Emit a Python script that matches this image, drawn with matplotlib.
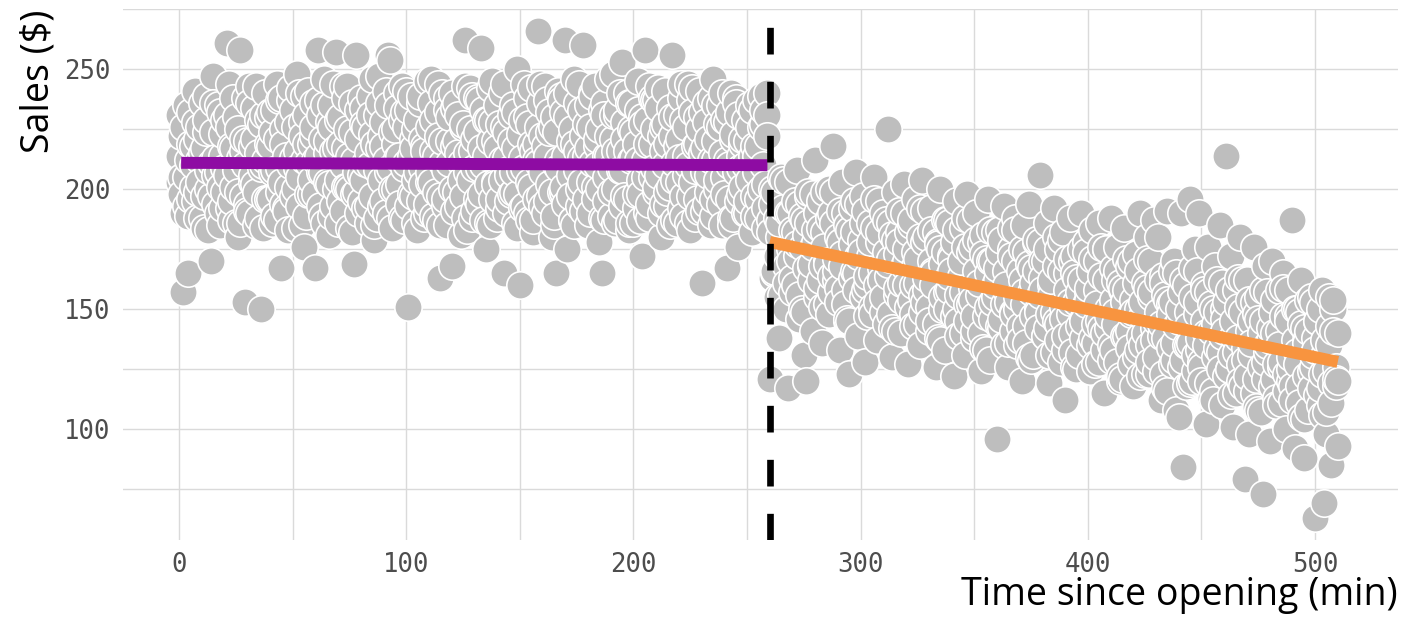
import numpy as np
import matplotlib.pyplot as plt

# sales per minute; three readings per minute
# minutes 0-259, before the change
sales_before_a = [
    231, 205, 157, 193, 165, 219, 201, 228, 188, 212,
    236, 197, 224, 183, 170, 247, 206, 190, 232, 214,
    199, 261, 226, 187, 238, 208, 180, 258, 216, 153,
    194, 243, 203, 221, 185, 229, 150, 210, 240, 196,
    218, 186, 233, 244, 209, 167, 225, 192, 201, 237,
    213, 184, 248, 205, 228, 176, 219, 241, 198, 222,
    167, 258, 207, 189, 235, 215, 181, 226, 244, 257,
    204, 230, 191, 217, 243, 200, 182, 169, 256, 221,
    195, 234, 211, 186, 239, 223, 179, 208, 247, 193,
    228, 212, 256, 254, 184, 219, 240, 202, 188, 232,
    241, 151, 214, 197, 225, 183, 236, 209, 218, 190,
    203, 246, 229, 187, 244, 163, 211, 193, 238, 220,
    168, 234, 199, 215, 181, 226, 262, 207, 242, 188,
    221, 196, 237, 259, 210, 175, 229, 185, 245, 203,
    217, 192, 240, 165, 224, 208, 198, 235, 186, 250,
    160, 213, 244, 190, 227, 201, 182, 219, 266, 236,
    207, 243, 195, 224, 180, 230, 165, 212, 239, 199,
    262, 175, 220, 187, 246, 208, 193, 233, 260, 214,
    185, 226, 240, 201, 218, 178, 165, 236, 195, 222,
    209, 248, 186, 231, 216, 253, 197, 240, 183, 225,
    213, 192, 245, 204, 172, 258, 229, 188, 219, 237,
    199, 242, 180, 226, 210, 193, 234, 256, 204, 186,
    221, 238, 197, 214, 244, 183, 242, 208, 230, 191,
    161, 217, 236, 199, 185, 246, 212, 227, 194, 240,
    205, 167, 232, 188, 221, 238, 176, 214, 201, 229,
    190, 235, 182, 218, 207, 196, 239, 227, 184, 240,
]
sales_before_b = [
    214, 198, 226, 205, 189, 232, 210, 195, 221, 203,
    188, 217, 229, 200, 211, 236, 194, 207, 185, 223,
    209, 231, 192, 218, 201, 186, 225, 213, 197, 238,
    220, 190, 206, 234, 199, 215, 227, 184, 212, 230,
    196, 224, 208, 187, 237, 203, 219, 191, 228, 210,
    233, 200, 216, 193, 222, 239, 189, 211, 204, 226,
    198, 214, 231, 207, 186, 220, 202, 235, 193, 217,
    229, 195, 210, 238, 201, 184, 224, 212, 199, 233,
    206, 227, 192, 215, 231, 197, 219, 188, 236, 204,
    218, 190, 235, 209, 200, 225, 213, 194, 229, 187,
    211, 233, 198, 221, 186, 207, 239, 202, 216, 194,
    226, 203, 189, 214, 232, 197, 220, 208, 185, 230,
    200, 218, 236, 193, 211, 227, 188, 215, 204, 239,
    191, 224, 209, 198, 233, 214, 186, 220, 228, 202,
    235, 196, 212, 226, 190, 206, 231, 199, 217, 184,
    208, 229, 193, 238, 203, 219, 187, 212, 226, 197,
    222, 190, 214, 232, 199, 185, 224, 209, 237, 201,
    194, 230, 206, 187, 219, 236, 200, 213, 191, 227,
    217, 203, 239, 196, 210, 225, 188, 231, 205, 214,
    189, 221, 200, 233, 208, 193, 228, 216, 186, 236,
    224, 198, 212, 187, 230, 205, 219, 194, 238, 209,
    201, 234, 190, 216, 227, 199, 185, 222, 211, 231,
    213, 192, 229, 206, 186, 237, 203, 218, 196, 225,
    232, 207, 194, 221, 212, 189, 235, 200, 226, 215,
    198, 228, 210, 185, 223, 236, 195, 209, 219, 190,
    220, 204, 233, 197, 214, 188, 226, 210, 202, 231,
]
sales_before_c = [
    203, 222, 190, 235, 212, 196, 218, 241, 199, 226,
    215, 184, 239, 208, 197, 224, 213, 235, 201, 192,
    229, 206, 244, 195, 217, 230, 199, 186, 221, 210,
    191, 236, 218, 202, 243, 188, 209, 231, 196, 219,
    232, 207, 189, 221, 199, 238, 194, 214, 183, 242,
    197, 226, 209, 240, 185, 212, 231, 198, 219, 236,
    212, 237, 193, 221, 246, 203, 228, 189, 216, 200,
    186, 219, 243, 201, 225, 214, 236, 198, 207, 190,
    238, 204, 226, 193, 210, 246, 185, 231, 217, 222,
    195, 241, 207, 188, 224, 200, 234, 214, 243, 209,
    226, 193, 239, 217, 204, 229, 195, 221, 188, 245,
    207, 236, 216, 199, 222, 185, 240, 196, 233, 211,
    240, 191, 220, 231, 204, 197, 243, 183, 225, 216,
    209, 238, 194, 217, 187, 229, 202, 242, 196, 220,
    188, 227, 204, 244, 213, 195, 220, 207, 232, 198,
    223, 192, 209, 230, 187, 242, 216, 196, 211, 244,
    193, 218, 237, 202, 226, 189, 210, 241, 199, 232,
    214, 240, 197, 225, 185, 216, 244, 203, 222, 196,
    235, 190, 211, 243, 221, 200, 233, 187, 214, 246,
    199, 231, 216, 187, 240, 208, 221, 196, 236, 212,
    186, 219, 233, 198, 227, 212, 190, 243, 205, 225,
    237, 206, 222, 194, 241, 219, 201, 230, 187, 218,
    203, 244, 189, 226, 210, 197, 232, 188, 219, 241,
    215, 191, 228, 206, 238, 196, 220, 204, 235, 185,
    229, 212, 196, 240, 188, 207, 231, 198, 221, 210,
    195, 226, 214, 189, 237, 218, 200, 233, 192, 222,
]
# minutes 260-510, after the change
sales_after_a = [
    121, 200, 165, 188, 138, 205, 172, 150, 117, 190,
    183, 160, 208, 146, 176, 131, 120, 197, 168, 141,
    212, 155, 184, 136, 199, 170, 148, 190, 218, 162,
    180, 133, 203, 158, 145, 123, 192, 166, 207, 139,
    174, 197, 128, 160, 186, 151, 205, 137, 178, 163,
    190, 144, 225, 171, 130, 199, 156, 182, 140, 202,
    160, 127, 185, 148, 196, 171, 135, 204, 153, 180,
    141, 192, 166, 126, 178, 200, 150, 133, 187, 158,
    172, 122, 195, 145, 163, 184, 131, 198, 152, 176,
    138, 190, 160, 124, 181, 147, 196, 129, 170, 155,
    96, 183, 142, 193, 158, 126, 175, 149, 188, 135,
    166, 120, 185, 143, 194, 157, 131, 178, 150, 206,
    170, 139, 186, 119, 160, 192, 145, 175, 128, 182,
    112, 165, 188, 140, 172, 153, 131, 190, 146, 178,
    157, 124, 183, 136, 170, 186, 142, 115, 175, 150,
    188, 133, 162, 176, 120, 158, 184, 139, 168, 127,
    118, 173, 150, 190, 135, 161, 180, 123, 155, 187,
    145, 180, 112, 164, 138, 191, 152, 127, 170, 108,
    105, 190, 84, 160, 135, 196, 120, 175, 148, 190,
    128, 160, 102, 176, 141, 116, 168, 134, 185, 110,
    150, 214, 125, 172, 101, 158, 138, 180, 118, 79,
    162, 98, 145, 176, 121, 155, 107, 73, 168, 132,
    95, 170, 140, 113, 158, 126, 165, 100, 147, 120,
    187, 92, 150, 118, 162, 88, 137, 108, 155, 126,
    63, 145, 110, 158, 69, 98, 135, 85, 150, 118,
    93,
]
sales_after_b = [
    187, 163, 199, 172, 180, 156, 192, 168, 203, 175,
    157, 182, 172, 194, 150, 187, 167, 199, 162, 176,
    178, 190, 162, 151, 182, 169, 200, 157, 186, 166,
    159, 191, 173, 152, 185, 145, 177, 182, 165, 194,
    179, 155, 191, 164, 172, 148, 184, 160, 195, 167,
    149, 174, 164, 186, 142, 179, 159, 191, 154, 168,
    170, 182, 154, 143, 174, 161, 192, 149, 178, 158,
    151, 183, 165, 144, 177, 137, 169, 174, 157, 186,
    171, 147, 183, 156, 164, 140, 176, 152, 187, 159,
    141, 166, 156, 178, 134, 171, 151, 183, 146, 160,
    162, 174, 146, 135, 166, 153, 184, 141, 170, 150,
    143, 175, 157, 136, 169, 129, 161, 166, 149, 178,
    163, 139, 175, 148, 156, 132, 168, 144, 179, 151,
    133, 158, 148, 170, 126, 163, 143, 175, 138, 152,
    154, 166, 138, 127, 158, 145, 176, 133, 162, 142,
    135, 167, 149, 128, 161, 121, 153, 158, 141, 170,
    154, 130, 166, 139, 147, 123, 159, 135, 170, 142,
    124, 149, 139, 161, 117, 154, 134, 166, 129, 143,
    145, 157, 129, 118, 149, 136, 167, 124, 153, 133,
    126, 158, 140, 119, 152, 112, 144, 149, 132, 161,
    146, 122, 158, 131, 139, 115, 151, 127, 162, 134,
    116, 141, 131, 153, 109, 146, 126, 158, 121, 135,
    137, 149, 121, 110, 141, 128, 159, 116, 145, 125,
    118, 150, 132, 111, 144, 104, 136, 141, 124, 153,
    138, 114, 150, 123, 131, 107, 143, 119, 154, 126,
    120,
]
sales_after_c = [
    182, 194, 166, 155, 186, 173, 204, 161, 190, 170,
    163, 195, 177, 156, 189, 149, 181, 186, 169, 198,
    183, 159, 195, 168, 176, 152, 188, 164, 199, 171,
    153, 178, 168, 190, 146, 183, 163, 195, 158, 172,
    174, 186, 158, 147, 178, 165, 196, 153, 182, 162,
    155, 187, 169, 148, 181, 141, 173, 178, 161, 190,
    175, 151, 187, 160, 168, 144, 180, 156, 191, 163,
    145, 170, 160, 182, 138, 175, 155, 187, 150, 164,
    166, 178, 150, 139, 170, 157, 188, 145, 174, 154,
    147, 179, 161, 140, 173, 133, 165, 170, 153, 182,
    167, 143, 179, 152, 160, 136, 172, 148, 183, 155,
    137, 162, 152, 174, 130, 167, 147, 179, 142, 156,
    158, 170, 142, 131, 162, 149, 180, 137, 166, 146,
    139, 171, 153, 132, 165, 125, 157, 162, 145, 174,
    159, 135, 171, 144, 152, 128, 164, 140, 175, 147,
    129, 154, 144, 166, 122, 159, 139, 171, 134, 148,
    149, 161, 133, 122, 153, 140, 171, 128, 157, 137,
    130, 162, 144, 123, 156, 116, 148, 153, 136, 165,
    150, 126, 162, 135, 143, 119, 155, 131, 166, 138,
    120, 145, 135, 157, 113, 150, 130, 162, 125, 139,
    141, 153, 125, 114, 145, 132, 163, 120, 149, 129,
    122, 154, 136, 115, 148, 108, 140, 145, 128, 157,
    142, 118, 154, 127, 135, 111, 147, 123, 158, 130,
    112, 137, 127, 149, 105, 142, 122, 154, 117, 131,
    133, 145, 117, 106, 137, 124, 155, 111, 141, 121,
    140,
]
cutoff = 260

# fitted lines on each side (end points)
fit_before_x = [1, 259]
fit_before_y = [211, 210]
fit_after_x = [260, 510]
fit_after_y = [178, 128]

series = [sales_before_a + sales_after_a,
          sales_before_b + sales_after_b,
          sales_before_c + sales_after_c]
sales = np.concatenate(series)
minutes = np.concatenate([np.arange(len(s)) for s in series])
order = np.argsort(minutes, kind="stable")
minutes, sales = minutes[order], sales[order]

fig = plt.figure(figsize=(14.08, 6.2), dpi=100)
ax = fig.add_axes([123 / 1408, 1 - 540 / 620, 1275 / 1408, 530.7 / 620])

ax.scatter(minutes, sales, s=390, color="#BEBEBE", edgecolors="white",
           linewidths=1.2, zorder=2)
ax.plot(fit_before_x, fit_before_y, color="#8E0CA3", lw=8.6,
        solid_capstyle="butt", zorder=3)
ax.plot(fit_after_x, fit_after_y, color="#F8943F", lw=8.6,
        solid_capstyle="butt", zorder=3)
ax.axvline(cutoff, color="black", lw=4.8, linestyle=(0, (4.0, 4.1)), zorder=4)

ax.set_xlim(-24.6, 536.5)
ax.set_ylim(53.75, 274.9)
ax.set_xticks([0, 100, 200, 300, 400, 500])
ax.set_xticks([50, 150, 250, 350, 450], minor=True)
ax.set_yticks([100, 150, 200, 250])
ax.set_yticks([75, 125, 175, 225, 275], minor=True)
ax.grid(which="both", color="#DADADA", lw=1.0, zorder=0)
ax.set_axisbelow(True)
ax.tick_params(which="both", length=0)
ax.tick_params(axis="x", pad=9)
ax.tick_params(axis="y", pad=9)
for lab in ax.get_xticklabels() + ax.get_yticklabels():
    lab.set_fontfamily("DejaVu Sans Mono")
    lab.set_fontsize(18.5)
    lab.set_color("#4D4D4D")
for s in ax.spines.values():
    s.set_visible(False)

fig.text(1398 / 1408, 1 - 605 / 620, "Time since opening (min)",
         ha="right", va="baseline", fontsize=27, family="Open Sans")
fig.text(38 / 1408, 1 - 10 / 620, "Sales (\\$)", rotation=90,
         ha="center", va="top", fontsize=27, family="Open Sans")

fig.savefig("out.png", dpi=100)
